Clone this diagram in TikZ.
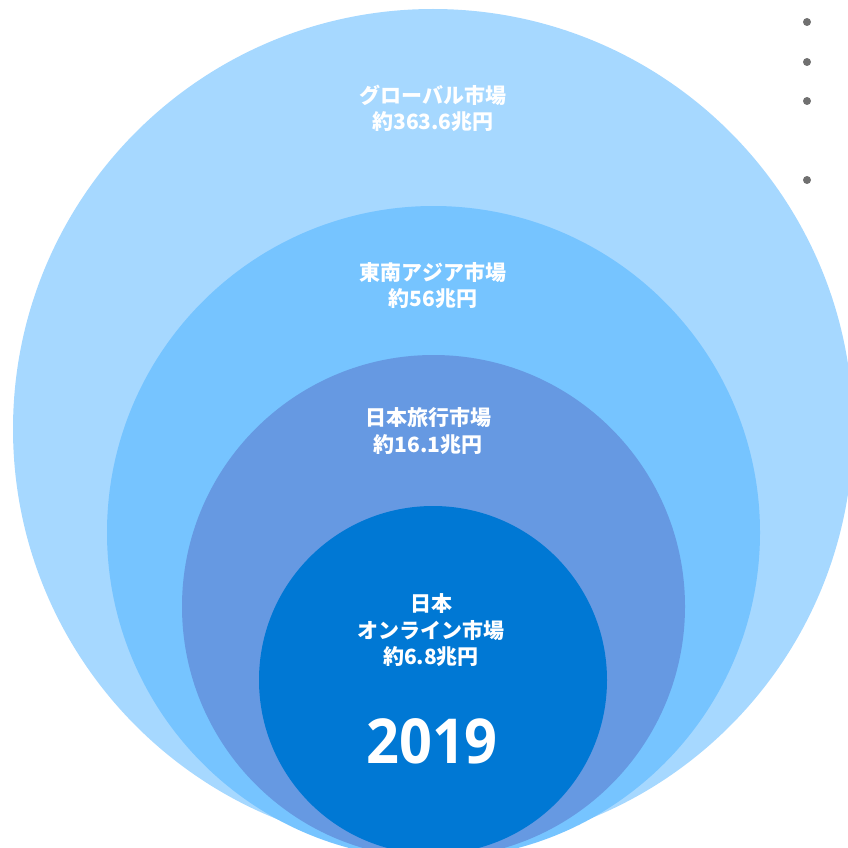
\documentclass[tikz,border=0pt]{standalone}
\usepackage{fontspec}
\newfontfamily\jp{Noto Sans CJK JP}
\newfontfamily\numfont{Open Sans}
\definecolor{cglobal}{RGB}{166,216,255}
\definecolor{casia}{RGB}{118,196,255}
\definecolor{ctravel}{RGB}{102,153,226}
\definecolor{conline}{RGB}{0,120,212}
\definecolor{cdot}{RGB}{112,112,112}
\tikzset{
  ring/.style={circle, draw=none, inner sep=0pt, outer sep=0pt},
  lbl/.style={text=white, align=center, inner sep=0pt, font=\jp\bfseries\fontsize{21}{26.5}\selectfont},
  bul/.style={circle, fill=cdot, inner sep=0pt, minimum size=8pt}
}
\begin{document}
\begin{tikzpicture}[x=1pt,y=-1pt]
\useasboundingbox (0,0) rectangle (848,848);
\clip (0,0) rectangle (848,848);
\node[ring, fill=cglobal, minimum size=840pt] (global) at (433,429) {};
\node[ring, fill=casia, minimum size=653pt] (asia) at (433.5,532.5) {};
\node[ring, fill=ctravel, minimum size=503pt] (travel) at (433.5,606.5) {};
\node[ring, fill=conline, minimum size=348pt] (online) at (433,680) {};
\node[lbl] (tglobal) at (433,108.5) {グローバル市場\\約363.6兆円};
\node[lbl] (tasia) at (433,285.5) {東南アジア市場\\約56兆円};
\node[lbl] (ttravel) at (428,431) {日本旅行市場\\約16.1兆円};
\node[lbl] (tonline) at (431,630.5) {日本\\オンライン市場\\約6.8兆円};
\node[text=white, inner sep=0pt, xscale=0.93, font=\numfont\bfseries\fontsize{62}{62}\selectfont] (year) at (432,741) {2019};
\node[bul] (b1) at (807,22) {};
\node[bul] (b2) at (807,62) {};
\node[bul] (b3) at (807,101) {};
\node[bul] (b4) at (807,180) {};
\end{tikzpicture}
\end{document}
